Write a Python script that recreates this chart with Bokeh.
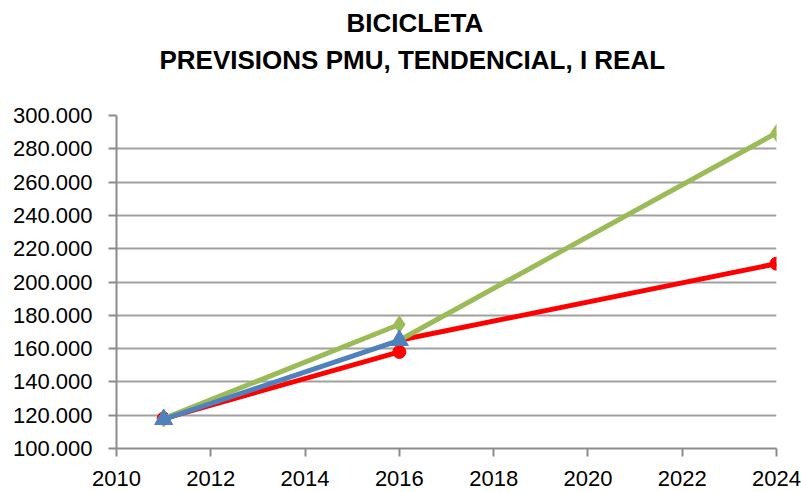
from bokeh.plotting import figure
from bokeh.models import FixedTicker, Title
from bokeh.embed import file_html
from bokeh.resources import INLINE

# ---- data ----
title_line1 = "BICICLETA"
title_line2 = "PREVISIONS PMU, TENDENCIAL, I REAL"

pmu_years = [2011, 2016]
pmu_vals = [118000, 174500]

tend_years = [2011, 2016]
tend_vals = [118000, 158000]

real_years = [2011, 2016]
real_vals = [117500, 165000]

pmu_proj_years = [2016, 2024]
pmu_proj_vals = [165000, 289500]

tend_proj_years = [2016, 2024]
tend_proj_vals = [165000, 211000]

x_ticks = [2010, 2012, 2014, 2016, 2018, 2020, 2022, 2024]
y_ticks = [100000, 120000, 140000, 160000, 180000, 200000, 220000, 240000, 260000, 280000, 300000]
y_tick_labels = ["100.000", "120.000", "140.000", "160.000", "180.000", "200.000",
                 "220.000", "240.000", "260.000", "280.000", "300.000"]

GREEN = "#9BBB59"
RED = "#FF0000"
BLUE = "#4F81BD"
GRID = "#a0a0a0"
FONT = "Liberation Sans"
TFONT = "Liberation Sans"

p = figure(width=801, height=492, x_range=(2010, 2024), y_range=(100000, 300000),
           output_backend="svg", toolbar_location=None, title=None,
           min_border_left=116, min_border_right=25, min_border_top=115, min_border_bottom=44)
p.outline_line_color = None
p.background_fill_color = "white"

# titles: first added sits nearest the frame
spacer = Title(text=" ", text_font=TFONT, text_font_size="1px", standoff=33)
t2 = Title(text=title_line2, align="left", offset=43, text_font=TFONT, text_font_style="bold",
           text_font_size="26px", text_color="#000000", standoff=10)
t1 = Title(text=title_line1, align="left", offset=230, text_font=TFONT, text_font_style="bold",
           text_font_size="26px", text_color="#000000", standoff=0)
p.add_layout(spacer, "above")
p.add_layout(t2, "above")
p.add_layout(t1, "above")

# axes
p.xaxis.ticker = FixedTicker(ticks=x_ticks)
p.yaxis.ticker = FixedTicker(ticks=y_ticks)
p.yaxis.major_label_overrides = {t: l for t, l in zip(y_ticks, y_tick_labels)}
for ax in (p.xaxis, p.yaxis):
    ax.axis_line_color = "#8c8c8c"
    ax.axis_line_width = 2
    ax.major_tick_line_color = "#8c8c8c"
    ax.major_tick_line_width = 2
    ax.major_tick_out = 8
    ax.major_tick_in = 0
    ax.minor_tick_line_color = None
    ax.major_label_text_font = FONT
    ax.major_label_text_font_size = "22px"
    ax.major_label_text_color = "#000000"
p.yaxis.major_label_standoff = 16
p.xaxis.major_label_standoff = 14

p.xgrid.grid_line_color = None
p.ygrid.grid_line_color = GRID
p.ygrid.grid_line_width = 2

# series
p.line(tend_years, tend_vals, line_color=RED, line_width=5)
p.line(tend_proj_years, tend_proj_vals, line_color=RED, line_width=5)
p.scatter(tend_years, tend_vals, marker="circle", size=13, fill_color=RED, line_color=RED)
p.scatter(tend_proj_years[1:], tend_proj_vals[1:], marker="circle", size=13, fill_color=RED, line_color=RED)

p.line(pmu_years, pmu_vals, line_color=GREEN, line_width=5)
p.line(pmu_proj_years, pmu_proj_vals, line_color=GREEN, line_width=5)
p.scatter(pmu_years, pmu_vals, marker="diamond", size=17, fill_color=GREEN, line_color=GREEN)
p.scatter(pmu_proj_years[1:], pmu_proj_vals[1:], marker="diamond", size=17, fill_color=GREEN, line_color=GREEN)

p.line(real_years, real_vals, line_color=BLUE, line_width=5)
p.scatter(real_years, real_vals, marker="triangle", size=18, fill_color=BLUE, line_color=BLUE)

open("out.html", "w").write(file_html(p, INLINE))
